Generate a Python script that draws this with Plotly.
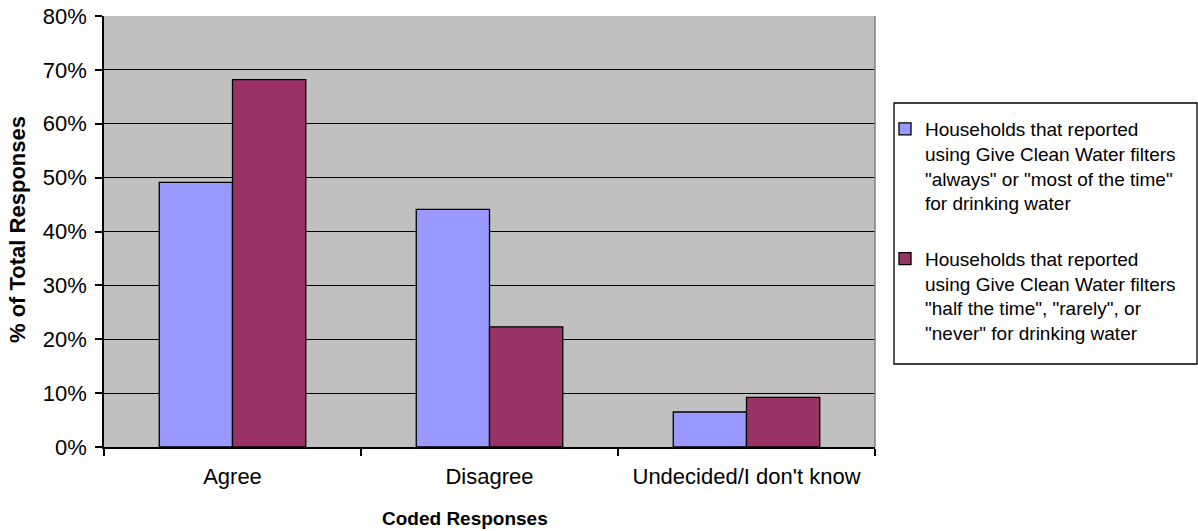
import plotly.graph_objects as go

# Survey responses, share of total responses per household group
categories = ["Agree", "Disagree", "Undecided/I don't know"]
frequent_users = [0.491, 0.441, 0.065]
infrequent_users = [0.682, 0.223, 0.092]

series_names = [
    "Households that reported<br>using Give Clean Water filters<br>"
    "\"always\" or \"most of the time\"<br>for drinking water",
    "Households that reported<br>using Give Clean Water filters<br>"
    "\"half the time\", \"rarely\", or<br>\"never\" for drinking water",
]
y_ticks = [0, 0.1, 0.2, 0.3, 0.4, 0.5, 0.6, 0.7, 0.8]

FONT = "Liberation Sans, Arial, sans-serif"
W, H = 1198, 531
L, R, T, B = 104, 323, 16, 84

fig = go.Figure()
fig.add_trace(go.Bar(
    x=categories, y=frequent_users, name=series_names[0],
    legendgroup="a",
    marker=dict(color="#9999FF", line=dict(color="#000000", width=1.3)),
))
fig.add_trace(go.Bar(
    x=categories, y=infrequent_users, name=series_names[1],
    legendgroup="b",
    marker=dict(color="#993366", line=dict(color="#000000", width=1.3)),
))

plot_w = W - L - R
plot_h = H - T - B


def px_x(x):
    return (x - L) / plot_w


def px_y(y):
    return (H - B - y) / plot_h


fig.update_layout(
    width=W, height=H,
    margin=dict(l=L, r=R, t=T, b=B, pad=0, autoexpand=False),
    paper_bgcolor="white",
    plot_bgcolor="#C0C0C0",
    barmode="group",
    bargap=0.43,
    bargroupgap=0,
    font=dict(family=FONT, size=19, color="#000000"),
    showlegend=True,
    legend=dict(
        xref="container", yref="container",
        x=885 / W, y=1 - 110 / H,
        xanchor="left", yanchor="top",
        bgcolor="rgba(0,0,0,0)", borderwidth=0,
        font=dict(family=FONT, size=19),
        valign="top",
        tracegroupgap=28,
        itemwidth=30,
    ),
    xaxis=dict(
        type="category", automargin=False,
        showline=True, linecolor="#000000", linewidth=1.5,
        ticks="outside", ticklen=7, tickcolor="#000000", tickwidth=1.5,
        tickson="boundaries",
        showgrid=False,
        tickfont=dict(family=FONT, size=22),
        ticklabelstandoff=9,
    ),
    yaxis=dict(
        range=[0, 0.8], tickvals=y_ticks, tickformat=".0%", automargin=False,
        showline=True, linecolor="#000000", linewidth=1.5,
        ticks="outside", ticklen=7, tickcolor="#000000", tickwidth=1.5,
        showgrid=True, gridcolor="#000000", gridwidth=1.3,
        zeroline=False,
        tickfont=dict(family=FONT, size=22),
        ticklabelstandoff=4,
    ),
    shapes=[
        # right edge of the plot area
        dict(type="line", xref="paper", yref="paper", x0=1, x1=1, y0=0, y1=1,
             line=dict(color="#808080", width=1.5)),
        # legend frame
        dict(type="rect", xref="paper", yref="paper",
             x0=px_x(894), x1=px_x(1197), y0=px_y(364), y1=px_y(103),
             line=dict(color="#000000", width=1.3), fillcolor="white",
             layer="below"),
    ],
    annotations=[
        dict(text="<b>Coded Responses</b>", xref="paper", yref="paper",
             x=px_x(465), y=px_y(518),
             xanchor="center", yanchor="middle", showarrow=False,
             font=dict(family=FONT, size=19)),
        dict(text="<b>% of Total Responses</b>", xref="paper", yref="paper",
             x=px_x(18), y=px_y(230),
             xanchor="center", yanchor="middle", showarrow=False, textangle=-90,
             font=dict(family=FONT, size=22)),
    ],
)

fig.write_html("out.html")
